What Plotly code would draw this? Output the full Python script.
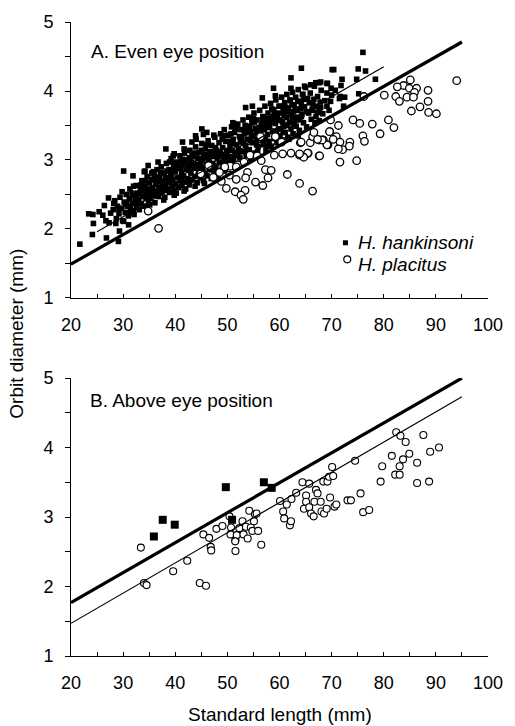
import plotly.graph_objects as go

# ---------------- Panel A: even eye position ----------------
# H. hankinsoni (filled squares)
hk_a_x = [
    28.1, 28.4, 28.7, 28.9, 29.2, 29.4, 29.7, 29.9, 30.2, 30.4,
    30.6, 30.8, 31.0, 31.2, 31.3, 31.6, 31.8, 32.0, 32.1, 32.3,
    32.5, 32.6, 32.8, 33.0, 33.1, 33.3, 33.5, 33.6, 33.8, 34.0,
    34.1, 34.3, 34.4, 34.6, 34.7, 34.9, 35.0, 35.2, 35.3, 35.5,
    35.6, 35.8, 35.9, 36.1, 36.2, 36.4, 36.5, 36.7, 36.8, 37.0,
    37.1, 37.3, 37.4, 37.6, 37.7, 37.9, 38.0, 38.2, 38.3, 38.5,
    38.6, 38.8, 38.9, 39.1, 39.2, 39.4, 39.5, 39.7, 39.8, 40.0,
    40.1, 40.3, 40.4, 40.6, 40.7, 40.9, 41.0, 41.2, 41.3, 41.5,
    41.6, 41.8, 41.9, 42.1, 42.2, 42.4, 42.5, 42.7, 42.8, 43.0,
    43.1, 43.3, 43.4, 43.6, 43.7, 43.9, 44.0, 44.2, 44.3, 44.5,
    44.6, 44.8, 44.9, 45.1, 45.2, 45.4, 45.5, 45.7, 45.8, 46.0,
    46.1, 46.3, 46.4, 46.6, 46.7, 46.9, 47.0, 47.2, 47.3, 47.5,
    47.6, 47.8, 47.9, 48.1, 48.2, 48.4, 48.5, 48.7, 48.8, 49.0,
    49.1, 49.3, 49.4, 49.6, 49.7, 49.9, 50.0, 50.2, 50.3, 50.5,
    50.6, 50.8, 50.9, 51.1, 51.2, 51.4, 51.5, 51.7, 51.8, 52.0,
    52.1, 52.3, 52.4, 52.6, 52.7, 52.9, 53.0, 53.2, 53.3, 53.5,
    53.6, 53.8, 53.9, 54.1, 54.2, 54.4, 54.5, 54.7, 54.8, 55.0,
    55.1, 55.3, 55.4, 55.6, 55.7, 55.9, 56.0, 56.2, 56.3, 56.5,
    56.6, 56.8, 56.9, 57.1, 57.2, 57.4, 57.5, 57.7, 57.8, 58.0,
    58.1, 58.3, 58.4, 58.6, 58.7, 58.9, 59.0, 59.2, 59.3, 59.5,
    59.6, 59.8, 59.9, 60.1, 60.2, 60.4, 60.5, 60.7, 60.8, 61.0,
    61.1, 61.3, 61.4, 61.6, 61.7, 61.9, 62.0, 62.2, 62.3, 62.5,
    62.6, 62.8, 62.9, 63.1, 63.2, 63.4, 63.6, 63.8, 64.0, 64.2,
    64.4, 64.6, 64.8, 65.0, 65.2, 65.4, 65.6, 65.9, 66.1, 66.4,
    66.7, 67.0, 67.3, 67.6, 68.0, 68.3, 68.7, 69.1, 69.5, 70.0,
    33.2, 34.2, 35.1, 36.0, 36.9, 37.8, 38.4, 39.0, 39.6, 40.2,
    40.8, 41.4, 42.0, 42.6, 43.2, 43.8, 44.4, 45.0, 45.6, 46.2,
    46.8, 47.4, 48.0, 48.6, 49.2, 49.8, 50.4, 51.0, 51.6, 52.2,
    52.8, 53.4, 54.0, 54.6, 55.2, 55.8, 56.4, 57.0, 57.6, 58.2,
    58.8, 59.4, 60.0, 60.6, 61.2, 61.8, 62.4, 63.0, 63.6, 64.2,
    34.8, 35.4, 36.6, 37.2, 38.7, 39.9, 41.1, 42.3, 43.5, 44.7,
    45.9, 47.1, 48.3, 49.5, 50.7, 51.9, 53.1, 54.3, 55.5, 56.7,
    57.9, 59.1, 60.3, 61.5, 62.7, 63.9, 65.1, 66.3, 67.8, 44.0,
    30.5, 31.4, 32.4, 33.4, 34.5, 35.6, 36.3, 37.5, 38.1, 38.9,
    39.3, 40.5, 41.2, 41.9, 42.9, 43.4, 44.1, 44.9, 45.3, 46.5,
    47.0, 47.7, 48.4, 49.0, 49.6, 50.1, 50.9, 51.3, 52.0, 52.5,
    53.2, 53.7, 54.4, 55.0, 55.6, 56.1, 56.8, 57.3, 57.9, 58.5,
    59.0, 59.7, 60.2, 60.9, 61.6, 62.1, 62.8, 63.3, 64.0, 64.7,
    31.7, 33.9, 35.8, 37.9, 39.4, 41.0, 42.7, 44.4, 46.0, 47.6,
    49.3, 50.8, 52.4, 54.0, 55.7, 57.4, 59.0, 60.7, 62.4, 64.3,
    21.7, 24.1, 24.3, 23.4, 24.2, 26.4, 26.8, 25.4, 26.1, 27.2,
    27.6, 27.3, 29.1, 29.3, 28.2, 29.8, 30.1, 31.05, 31.9, 32.0,
    32.6, 34.05, 34.8, 36.7, 38.2, 39.8, 41.4, 41.7, 43.2, 45.1,
    45.4, 43.9, 39.8, 41.7, 31.05, 30.1, 28.6, 26.7, 29.2, 30.7,
    32.0, 32.6, 34.2,
    64.2, 70.1, 62.2, 58.85, 62.2, 64.8, 56.7, 59.2, 51.05, 53.5,
    54.8, 46.05,
    76.0, 70.4, 75.1, 76.5, 78.4, 72.0, 74.8, 66.0, 66.96, 67.9,
    69.1, 69.9, 70.7, 71.8, 71.5, 72.5, 75.2, 69.8, 69.1, 67.9,
    66.6, 65.7, 64.5, 63.5, 67.3, 66.3, 67.6, 66.8, 67.6, 69.2,
    71.65, 72.3, 67.0,
]
hk_a_y = [
    2.28, 2.41, 2.15, 2.33, 2.22, 2.46, 2.30, 2.12, 2.39, 2.24,
    2.50, 2.33, 2.19, 2.44, 2.58, 2.27, 2.37, 2.49, 2.21, 2.41,
    2.63, 2.32, 2.52, 2.43, 2.28, 2.58, 2.37, 2.70, 2.47, 2.55,
    2.33, 2.62, 2.44, 2.76, 2.51, 2.39, 2.67, 2.56, 2.45, 2.81,
    2.60, 2.49, 2.71, 2.38, 2.64, 2.55, 2.86, 2.68, 2.47, 2.75,
    2.59, 2.90, 2.52, 2.70, 2.63, 2.81, 2.46, 2.74, 2.95, 2.58,
    2.67, 2.86, 2.53, 2.78, 3.02, 2.62, 2.71, 2.91, 2.56, 2.83,
    2.66, 2.97, 2.75, 2.60, 2.88, 3.06, 2.70, 2.80, 2.63, 2.94,
    2.77, 3.10, 2.68, 2.86, 3.00, 2.73, 2.92, 2.64, 3.14, 2.81,
    2.97, 2.71, 3.05, 2.88, 2.76, 3.19, 2.93, 2.67, 3.02, 2.84,
    3.11, 2.74, 2.96, 3.24, 2.88, 2.70, 3.06, 2.81, 3.16, 2.93,
    2.77, 3.28, 3.00, 2.86, 3.12, 2.73, 3.21, 2.95, 3.05, 2.83,
    3.33, 2.90, 3.14, 3.02, 2.79, 3.25, 2.96, 3.38, 3.08, 2.87,
    3.18, 3.00, 3.44, 2.84, 3.27, 3.11, 2.93, 3.36, 3.05, 3.21,
    2.90, 3.48, 3.14, 3.30, 2.98, 3.40, 3.08, 3.22, 2.94, 3.52,
    3.17, 3.34, 3.03, 3.44, 3.26, 2.99, 3.58, 3.12, 3.38, 3.21,
    3.06, 3.49, 3.30, 3.62, 3.15, 3.41, 3.02, 3.54, 3.25, 3.35,
    3.68, 3.10, 3.46, 3.29, 3.58, 3.19, 3.38, 3.72, 3.05, 3.50,
    3.33, 3.63, 3.22, 3.44, 3.78, 3.14, 3.55, 3.37, 3.68, 3.27,
    3.48, 3.82, 3.20, 3.60, 3.41, 3.73, 3.31, 3.53, 3.87, 3.25,
    3.65, 3.45, 3.78, 3.35, 3.58, 3.91, 3.29, 3.70, 3.49, 3.83,
    3.40, 3.62, 3.95, 3.33, 3.75, 3.54, 3.87, 3.45, 3.67, 3.98,
    3.38, 3.80, 3.58, 3.91, 3.49, 3.72, 4.02, 3.43, 3.85, 3.63,
    3.95, 3.54, 3.77, 4.05, 3.48, 3.89, 3.68, 3.97, 3.59, 3.82,
    4.07, 3.63, 3.92, 3.74, 4.01, 3.67, 3.86, 3.97, 3.72, 3.94,
    2.51, 2.70, 2.35, 2.78, 2.60, 2.42, 2.84, 2.68, 3.06, 2.52,
    2.74, 3.01, 2.58, 2.85, 3.10, 2.62, 2.90, 3.14, 2.66, 3.04,
    2.92, 3.36, 2.76, 3.12, 3.35, 2.97, 3.27, 3.04, 3.45, 2.92,
    3.31, 3.50, 3.09, 3.34, 3.55, 3.12, 3.42, 3.60, 3.20, 3.55,
    3.63, 3.38, 3.68, 3.55, 3.76, 3.30, 3.60, 3.74, 3.35, 3.80,
    2.58, 2.72, 2.52, 2.82, 2.74, 2.95, 2.88, 2.70, 2.95, 3.02,
    3.08, 2.86, 3.05, 3.08, 3.38, 3.11, 3.24, 3.47, 3.40, 3.28,
    3.47, 3.60, 3.45, 3.50, 3.70, 3.58, 3.70, 3.72, 3.84, 3.30,
    2.36, 2.30, 2.46, 2.64, 2.47, 2.53, 2.73, 2.80, 2.63, 2.97,
    2.76, 2.92, 2.72, 2.99, 2.87, 3.08, 3.10, 2.90, 3.00, 2.97,
    3.06, 3.18, 3.12, 3.30, 3.00, 3.14, 3.24, 3.52, 3.06, 3.30,
    3.43, 3.14, 3.28, 3.60, 3.22, 3.47, 3.56, 3.30, 3.60, 3.74,
    3.42, 3.57, 3.78, 3.65, 3.70, 3.86, 3.52, 3.62, 3.74, 3.88,
    2.52, 2.62, 2.83, 2.56, 2.85, 2.98, 3.03, 2.78, 3.22, 3.10,
    2.96, 3.00, 3.12, 3.40, 3.34, 3.48, 3.68, 3.40, 3.80, 3.66,
    1.78, 1.92, 2.08, 2.22, 2.21, 2.34, 1.87, 2.25, 2.20, 2.45,
    2.23, 2.09, 1.82, 1.97, 2.37, 2.54, 2.84, 2.06, 2.77, 2.62,
    2.49, 2.83, 2.92, 2.97, 3.16, 3.09, 3.26, 3.16, 3.26, 3.45,
    3.37, 3.35, 2.49, 2.55, 2.23, 2.11, 2.08, 2.12, 2.30, 2.37,
    2.25, 2.37, 2.84,
    4.33, 4.31, 4.19, 4.04, 4.04, 4.07, 3.90, 3.93, 3.54, 3.76,
    3.78, 3.40,
    4.56, 4.31, 4.32, 4.29, 4.17, 4.17, 4.17, 4.09, 4.12, 4.13,
    4.11, 4.04, 4.01, 4.08, 3.89, 3.91, 3.96, 3.85, 3.78, 3.76,
    3.88, 3.83, 3.95, 3.85, 3.69, 3.74, 3.57, 3.54, 4.12, 4.11,
    3.92, 3.78, 3.78,
]

# H. placitus (open circles)
pl_a_x = [
    34.8, 36.8, 45.0,
    56.35, 59.2, 60.4, 59.0, 60.6, 62.2, 64.0, 65.9, 66.35, 67.6,
    68.4, 69.3, 69.65, 63.85, 64.8, 65.5, 67.6, 54.35, 55.7, 56.5,
    57.3, 58.4, 52.0, 50.55, 49.5, 48.5, 46.4, 44.9, 47.3, 50.4,
    51.7, 53.85, 53.5, 55.4, 56.8, 57.8, 61.5, 63.85, 66.35, 51.5,
    53.4, 52.6, 53.05, 49.8, 48.85, 51.7, 53.2,
    94.0, 85.1, 83.8, 82.6, 84.9, 86.3, 85.9, 84.45, 82.3, 83.0,
    85.7, 88.5, 88.5, 86.95, 85.3, 88.6, 90.1, 80.1, 76.2, 74.1,
    75.4, 77.8, 80.9, 81.95, 79.3, 76.0, 76.3, 71.3, 69.8, 69.6,
    70.9, 73.5, 73.4, 71.6, 72.1, 71.3, 70.3, 69.1, 68.2, 67.3,
    64.15, 66.6, 67.7, 65.4, 64.65, 71.6, 74.8, 63.85,
]
pl_a_y = [
    2.26, 2.01, 2.80,
    3.34, 3.34, 3.26, 3.07, 3.09, 3.10, 3.25, 3.25, 3.34, 3.29,
    3.29, 3.22, 3.41, 3.07, 3.06, 3.10, 3.06, 3.07, 3.06, 2.99,
    2.86, 2.85, 2.93, 2.91, 2.90, 2.82, 2.92, 2.80, 2.75, 2.78,
    2.72, 2.82, 2.74, 2.68, 2.63, 2.74, 2.79, 2.66, 2.55, 2.54,
    2.56, 2.49, 2.43, 2.59, 2.69, 2.90, 2.97,
    4.15, 4.16, 4.08, 4.06, 4.04, 4.04, 3.98, 3.91, 3.92, 3.85,
    3.91, 4.01, 3.85, 3.77, 3.71, 3.69, 3.67, 3.94, 3.92, 3.58,
    3.53, 3.52, 3.58, 3.47, 3.38, 3.35, 3.27, 3.50, 3.58, 3.41,
    3.34, 3.26, 3.20, 3.26, 3.15, 3.16, 3.30, 3.22, 3.29, 3.30,
    3.26, 3.40, 3.06, 3.10, 3.04, 2.97, 2.99, 3.09,
]

# regression lines, panel A (end points)
fit_a_hk_x = [25.0, 80.0]
fit_a_hk_y = [1.96, 4.35]
fit_a_pl_x = [20.0, 95.0]
fit_a_pl_y = [1.49, 4.71]

# ---------------- Panel B: above eye position ----------------
hk_b_x = [35.9, 37.6, 39.9, 49.7, 50.9, 57.0, 58.5]
hk_b_y = [2.72, 2.96, 2.89, 3.43, 2.96, 3.50, 3.42]

pl_b_x = [
    33.4, 34.0, 34.5, 39.6, 42.3, 44.7, 45.9, 45.4, 46.5, 46.8,
    46.9, 47.9, 49.05, 50.4, 50.7, 50.6, 51.55, 51.55, 51.8, 52.3,
    52.9, 53.1, 53.55, 53.9, 54.2, 54.5, 54.8, 55.1, 55.3, 55.6,
    55.9, 56.5, 60.1, 60.7, 60.9, 61.4, 62.0, 62.2, 62.3, 63.2,
    64.4, 64.7, 65.1, 65.1, 65.7, 65.7, 66.05, 66.55, 66.7, 67.0,
    67.3, 67.9, 68.05, 68.55, 68.4, 69.05, 69.2, 69.5, 69.7, 70.1,
    70.3, 70.55, 70.9, 73.05, 73.7, 74.5, 75.55, 76.05, 77.2, 79.4,
    79.7, 81.55, 82.2, 83.05, 83.05, 83.7, 82.4, 83.2, 84.2, 84.9,
    86.4, 86.4, 87.6, 88.7, 88.9, 90.6, 51.5,
]
pl_b_y = [
    2.56, 2.05, 2.02, 2.22, 2.37, 2.05, 2.01, 2.75, 2.70, 2.57,
    2.52, 2.83, 2.87, 3.01, 2.85, 2.75, 2.67, 2.51, 2.74, 2.84,
    2.94, 2.75, 2.86, 2.69, 3.09, 2.85, 2.80, 2.94, 3.04, 3.05,
    2.80, 2.60, 3.23, 3.08, 2.98, 3.18, 2.88, 2.94, 3.26, 3.35,
    3.50, 3.12, 3.31, 3.22, 3.48, 3.14, 3.05, 3.01, 3.22, 3.39,
    3.34, 3.22, 3.08, 3.05, 3.51, 3.12, 3.51, 3.58, 3.28, 3.72,
    3.59, 3.15, 3.18, 3.24, 3.24, 3.81, 3.34, 3.07, 3.10, 3.51,
    3.73, 3.88, 3.61, 3.61, 3.73, 3.83, 4.22, 4.17, 4.08, 3.91,
    3.78, 3.49, 4.18, 3.51, 3.94, 4.00, 2.65,
]

fit_b_hk_x = [20.0, 95.0]
fit_b_hk_y = [1.77, 5.00]
fit_b_pl_x = [20.0, 95.0]
fit_b_pl_y = [1.47, 4.73]

x_ticks = [20, 30, 40, 50, 60, 70, 80, 90, 100]
y_ticks = [1, 2, 3, 4, 5]

FONT = "Liberation Sans, Arial, Helvetica, sans-serif"

fig = go.Figure()

sq_a = dict(symbol="square", size=5.6, color="black", line=dict(width=0))
circ_a = dict(symbol="circle", size=7.5, color="white", line=dict(color="black", width=1.3))
sq_b = dict(symbol="square", size=8, color="black", line=dict(width=0))
circ_b = dict(symbol="circle", size=7, color="white", line=dict(color="black", width=1.1))

fig.add_trace(go.Scatter(x=hk_a_x, y=hk_a_y, mode="markers", marker=sq_a,
                         xaxis="x", yaxis="y", name="H. hankinsoni"))
fig.add_trace(go.Scatter(x=pl_a_x, y=pl_a_y, mode="markers", marker=circ_a,
                         xaxis="x", yaxis="y", name="H. placitus"))
fig.add_trace(go.Scatter(x=fit_a_hk_x, y=fit_a_hk_y, mode="lines",
                         line=dict(color="black", width=1.2), xaxis="x", yaxis="y"))
fig.add_trace(go.Scatter(x=fit_a_pl_x, y=fit_a_pl_y, mode="lines",
                         line=dict(color="black", width=3.2), xaxis="x", yaxis="y"))

fig.add_trace(go.Scatter(x=pl_b_x, y=pl_b_y, mode="markers", marker=circ_b,
                         xaxis="x2", yaxis="y2"))
fig.add_trace(go.Scatter(x=hk_b_x, y=hk_b_y, mode="markers", marker=sq_b,
                         xaxis="x2", yaxis="y2"))
fig.add_trace(go.Scatter(x=fit_b_hk_x, y=fit_b_hk_y, mode="lines",
                         line=dict(color="black", width=3.2), xaxis="x2", yaxis="y2"))
fig.add_trace(go.Scatter(x=fit_b_pl_x, y=fit_b_pl_y, mode="lines",
                         line=dict(color="black", width=1.2), xaxis="x2", yaxis="y2"))

xax = dict(range=[20, 100], tickvals=x_ticks, ticks="inside", ticklen=4, tickwidth=1,
           tickcolor="black", showline=True, linecolor="black", linewidth=1,
           showgrid=False, zeroline=False, tickfont=dict(size=18, family=FONT, color="black"),
           minor=dict(dtick=5, tick0=20, ticks="inside", ticklen=4, tickcolor="black", showgrid=False),
           ticklabelstandoff=10, domain=[0, 1])
yax = dict(range=[1, 5], tickvals=y_ticks, ticks="outside", ticklen=5, tickwidth=1,
           tickcolor="black", showline=True, linecolor="black", linewidth=1,
           showgrid=False, zeroline=False, tickfont=dict(size=18, family=FONT, color="black"),
           minor=dict(dtick=0.5, tick0=1, ticks="outside", ticklen=5, tickcolor="black", showgrid=False),
           ticklabelstandoff=8)

fig.update_layout(
    width=515, height=726,
    margin=dict(l=71, r=17, t=15, b=70),
    paper_bgcolor="white", plot_bgcolor="white",
    showlegend=False,
    font=dict(family=FONT, color="black", size=19),
    xaxis=dict(xax, anchor="y"),
    yaxis=dict(yax, anchor="x", domain=[0.5647, 1]),
    xaxis2=dict(xax, anchor="y2"),
    yaxis2=dict(yax, anchor="x2", domain=[0, 0.4384]),
    annotations=[
        dict(text="A. Even eye position", x=23.5, y=4.57, xref="x", yref="y",
             xanchor="left", yanchor="middle", showarrow=False, font=dict(size=19)),
        dict(text="B. Above eye position", x=23.2, y=4.67, xref="x2", yref="y2",
             xanchor="left", yanchor="middle", showarrow=False, font=dict(size=19)),
        dict(text="<i>H. hankinsoni</i>", x=74.7, y=1.80, xref="x", yref="y",
             xanchor="left", yanchor="middle", showarrow=False, font=dict(size=19)),
        dict(text="<i>H. placitus</i>", x=74.7, y=1.49, xref="x", yref="y",
             xanchor="left", yanchor="middle", showarrow=False, font=dict(size=19)),
        dict(text="Orbit diameter (mm)", x=-0.131, y=0.509, xref="paper", yref="paper",
             xanchor="center", yanchor="middle", textangle=-90, showarrow=False,
             font=dict(size=19)),
        dict(text="Standard length (mm)", x=0.500, y=-0.093, xref="paper", yref="paper",
             xanchor="center", yanchor="middle", showarrow=False, font=dict(size=19)),
    ],
    shapes=[
        dict(type="rect", xref="x", yref="y", xsizemode="pixel", ysizemode="pixel",
             xanchor=72.65, yanchor=1.80, x0=-2.5, x1=2.5, y0=-2.5, y1=2.5,
             fillcolor="black", line=dict(width=0)),
        dict(type="circle", xref="x", yref="y", xsizemode="pixel", ysizemode="pixel",
             xanchor=73.0, yanchor=1.56, x0=-3.5, x1=3.5, y0=-3.5, y1=3.5,
             fillcolor="white", line=dict(color="black", width=1.2)),
    ],
)

fig.write_html("out.html")
